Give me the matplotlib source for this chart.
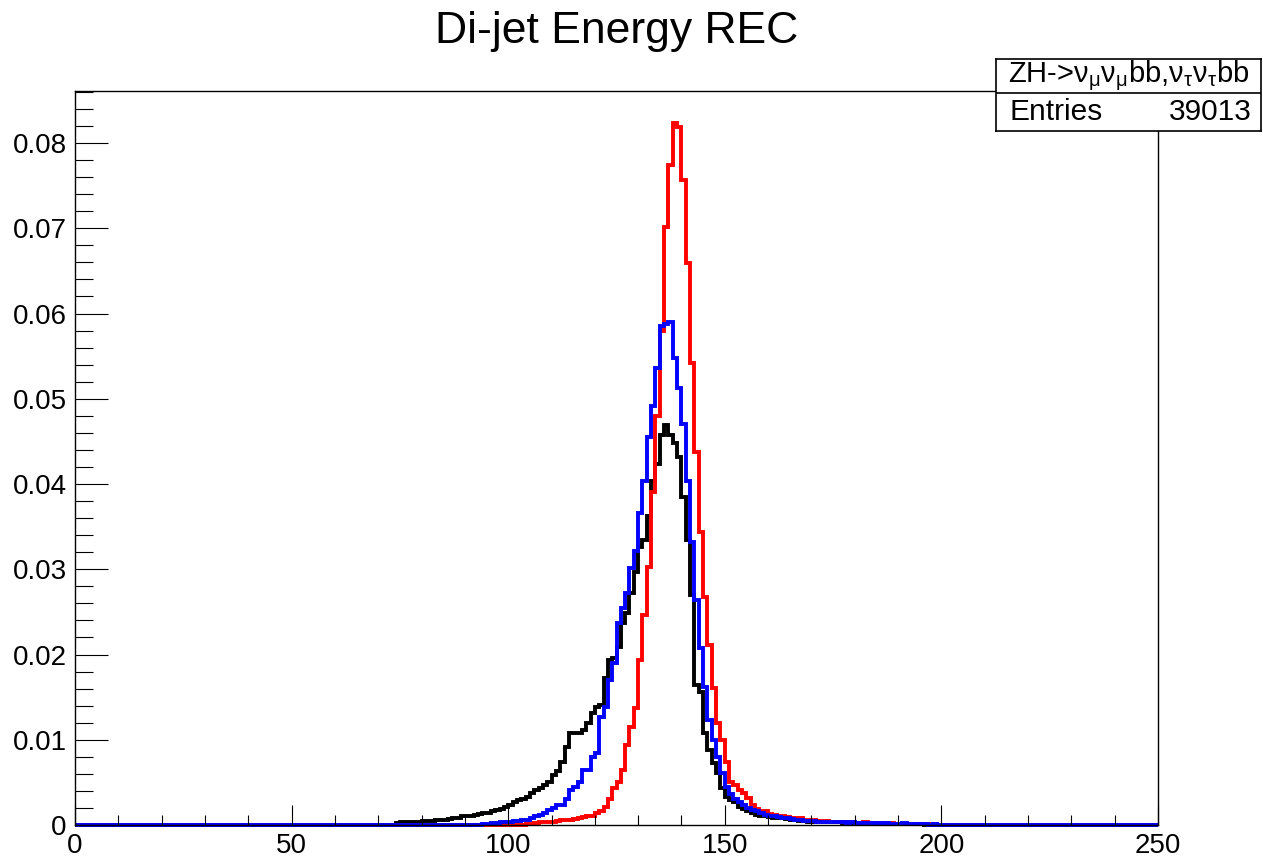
import numpy as np
import matplotlib
matplotlib.use('Agg')
import matplotlib.pyplot as plt
from matplotlib.ticker import MultipleLocator

plt.rcParams['font.family'] = ['Liberation Sans', 'DejaVu Sans']
plt.rcParams['mathtext.fontset'] = 'custom'
plt.rcParams['mathtext.rm'] = 'Liberation Sans'
plt.rcParams['mathtext.it'] = 'Liberation Sans'
plt.rcParams['mathtext.sf'] = 'Liberation Sans'
plt.rcParams['mathtext.default'] = 'regular'

'''histogram contents, 250 bins of 1 GeV from 0 to 250'''
n_bins = 250
x_min, x_max = 0, 250

# black histogram, first filled bin
black_start = 74
black_vals = [0.0002, 0.0003, 0.0003, 0.0004, 0.0004, 0.0004, 0.0005, 0.0005, 0.0005, 0.0006,
              0.0006, 0.0006, 0.0007, 0.0008, 0.0008, 0.0010, 0.0010, 0.0011, 0.0012, 0.0013,
              0.0014, 0.0014, 0.0016, 0.0018, 0.0019, 0.0021, 0.0023, 0.0027, 0.0029, 0.0031,
              0.0033, 0.0037, 0.0041, 0.0043, 0.0047, 0.0051, 0.0059, 0.0063, 0.0074, 0.0092,
              0.0108, 0.0108, 0.0108, 0.0111, 0.0120, 0.0131, 0.0139, 0.0141, 0.0172, 0.0194,
              0.0196, 0.0209, 0.0237, 0.0249, 0.0272, 0.0297, 0.0326, 0.0334, 0.0362, 0.0403,
              0.0424, 0.0457, 0.0469, 0.0457, 0.0448, 0.0432, 0.0385, 0.0334, 0.0270, 0.0164,
              0.0156, 0.0108, 0.0088, 0.0073, 0.0061, 0.0043, 0.0033, 0.0029, 0.0027, 0.0021,
              0.0019, 0.0016, 0.0014, 0.0012, 0.0011, 0.0010, 0.0009, 0.0008, 0.0008, 0.0008,
              0.0007, 0.0006, 0.0006, 0.0005, 0.0005, 0.0004, 0.0004, 0.0004, 0.0003, 0.0004,
              0.0003, 0.0003, 0.0003, 0.0002, 0.0003, 0.0002, 0.0002, 0.0002, 0.0002, 0.0001,
              0.0002, 0.0001, 0.0002, 0.0001, 0.0001, 0.0001, 0.0001, 0.0001, 0.0001, 0.0001,
              0.0001, 0.0001]

# red histogram
red_start = 104
red_vals = [0.0001, 0.0001, 0.0002, 0.0003, 0.0003, 0.0003, 0.0003, 0.0005, 0.0006, 0.0006,
            0.0006, 0.0007, 0.0008, 0.0009, 0.0010, 0.0011, 0.0014, 0.0016, 0.0021, 0.0030,
            0.0043, 0.0051, 0.0065, 0.0094, 0.0115, 0.0137, 0.0194, 0.0246, 0.0303, 0.0391,
            0.0480, 0.0579, 0.0702, 0.0774, 0.0823, 0.0819, 0.0757, 0.0659, 0.0542, 0.0438,
            0.0344, 0.0268, 0.0211, 0.0161, 0.0120, 0.0100, 0.0074, 0.0051, 0.0047, 0.0041,
            0.0037, 0.0032, 0.0023, 0.0019, 0.0017, 0.0016, 0.0013, 0.0012, 0.0011, 0.0010,
            0.0009, 0.0008, 0.0008, 0.0008, 0.0006, 0.0005, 0.0006, 0.0005, 0.0004, 0.0005,
            0.0004, 0.0003, 0.0003, 0.0003, 0.0002, 0.0003, 0.0002, 0.0002, 0.0003, 0.0002,
            0.0002, 0.0001, 0.0002, 0.0001, 0.0002, 0.0001, 0.0001, 0.0001, 0.0001, 0.0001,
            0.0001, 0.0001, 0.0001, 0.0001, 0.0001]

# blue histogram
blue_start = 94
blue_vals = [0.0001, 0.0001, 0.0002, 0.0002, 0.0003, 0.0003, 0.0004, 0.0005, 0.0005, 0.0006,
             0.0006, 0.0008, 0.0010, 0.0012, 0.0014, 0.0018, 0.0020, 0.0023, 0.0023, 0.0031,
             0.0041, 0.0045, 0.0051, 0.0065, 0.0065, 0.0080, 0.0084, 0.0127, 0.0139, 0.0170,
             0.0190, 0.0237, 0.0255, 0.0272, 0.0301, 0.0321, 0.0366, 0.0403, 0.0455, 0.0491,
             0.0536, 0.0585, 0.0588, 0.0590, 0.0548, 0.0513, 0.0470, 0.0403, 0.0332, 0.0264,
             0.0208, 0.0162, 0.0123, 0.0100, 0.0080, 0.0061, 0.0045, 0.0036, 0.0031, 0.0027,
             0.0023, 0.0020, 0.0018, 0.0016, 0.0014, 0.0012, 0.0011, 0.0010, 0.0009, 0.0008,
             0.0008, 0.0007, 0.0006, 0.0006, 0.0005, 0.0005, 0.0005, 0.0004, 0.0004, 0.0003,
             0.0004, 0.0003, 0.0003, 0.0003, 0.0002, 0.0003, 0.0002, 0.0002, 0.0002, 0.0002,
             0.0001, 0.0002, 0.0001, 0.0002, 0.0001, 0.0001, 0.0001, 0.0002, 0.0001, 0.0001,
             0.0001, 0.0001, 0.0001, 0.0000, 0.0001]

stats_name = r'ZH->$\nu_{\mu}\nu_{\mu}$bb,$\nu_{\tau}\nu_{\tau}$bb'
entries = 39013


def full_hist(start, vals):
    h = np.zeros(n_bins)
    h[start:start + len(vals)] = vals
    return h


edges = np.linspace(x_min, x_max, n_bins + 1)

'''Plot'''
fig = plt.figure(figsize=(12.63, 8.59), dpi=100)
ax = fig.add_axes([75/1263, 34/859, 1083/1263, 734/859])

for start, vals, col in [(black_start, black_vals, 'black'),
                         (red_start, red_vals, 'red'),
                         (blue_start, blue_vals, 'blue')]:
    ax.stairs(full_hist(start, vals), edges, color=col, lw=2.8, clip_on=False)

ax.set_xlim(x_min, x_max)
ax.set_ylim(0, 0.0861)
ax.xaxis.set_major_locator(MultipleLocator(50))
ax.xaxis.set_minor_locator(MultipleLocator(10))
ax.yaxis.set_major_locator(MultipleLocator(0.01))
ax.yaxis.set_minor_locator(MultipleLocator(0.002))
ax.yaxis.set_major_formatter(lambda v, p: '0' if abs(v) < 1e-9 else '%.2f' % v)
ax.tick_params(axis='x', which='major', direction='in', length=14.5, width=0.8,
               labelsize=20, pad=6, top=False)
ax.tick_params(axis='x', which='minor', direction='in', length=7.2, width=0.8, top=False)
ax.tick_params(axis='y', which='major', direction='in', length=24, width=0.8,
               labelsize=20, pad=6, right=False)
ax.tick_params(axis='y', which='minor', direction='in', length=13, width=0.8, right=False)
for s in ax.spines.values():
    s.set_linewidth(1.0)

fig.text(0.4885, 0.963, 'Di-jet Energy REC', ha='center', va='center', fontsize=32)

# stats box
sb = fig.add_axes([996/1263, 728/859, 265/1263, 72/859])
sb.set_xlim(0, 1)
sb.set_ylim(0, 1)
sb.set_xticks([])
sb.set_yticks([])
for s in sb.spines.values():
    s.set_linewidth(1.2)
sb.axhline(38/72, color='black', lw=1.2)
sb.text(0.5, 0.77, stats_name, ha='center', va='center', fontsize=21)
sb.text(0.05, 0.26, 'Entries', ha='left', va='center', fontsize=21.5)
sb.text(0.965, 0.26, str(entries), ha='right', va='center', fontsize=21.5)

fig.savefig('out.png', dpi=100)
